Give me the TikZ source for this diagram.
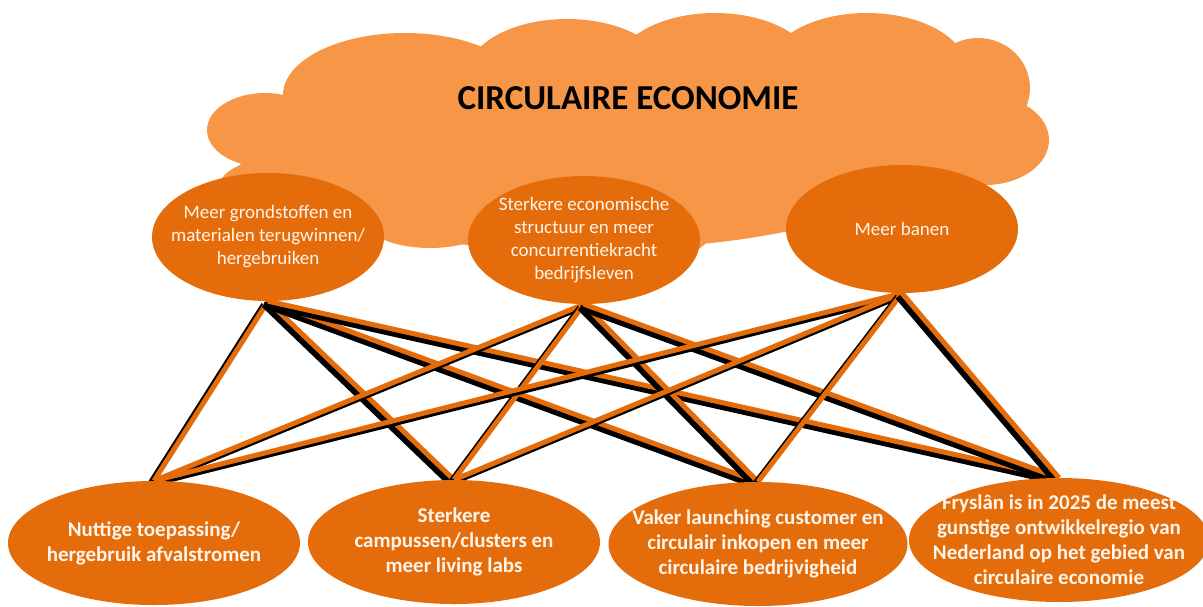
\documentclass[tikz,border=0pt]{standalone}
\usepackage{fontspec}
\setmainfont{Carlito}
\usetikzlibrary{shapes,backgrounds}
\definecolor{cloudorange}{RGB}{247,150,70}
\definecolor{goalorange}{RGB}{228,108,10}
\definecolor{goaltext}{RGB}{255,245,236}
\tikzstyle{topgoal}=[ellipse,fill=goalorange,text=goaltext,align=center,inner sep=-20pt,minimum width=232pt,minimum height=128pt,font=\fontsize{19}{23}\selectfont]
\tikzstyle{subgoal}=[ellipse,fill=goalorange,text=goaltext,align=center,inner sep=-20pt,minimum width=292pt,minimum height=124pt,font=\fontsize{21}{25}\selectfont\bfseries]
\tikzstyle{link}=[draw=goalorange,line width=5pt]
\tikzstyle{linkshadow}=[draw=black,line width=6pt]

\begin{document}
\begin{tikzpicture}[x=1pt,y=-1pt]
\useasboundingbox (0,0) rectangle (1203,606);

%Title
\node[font=\fontsize{35}{42}\selectfont\bfseries] (title) at (628,98) {CIRCULAIRE ECONOMIE};

%Goals
    \foreach \pos/\name/\label in {{(268,237)/e1/{Meer grondstoffen en\\materialen terugwinnen/\\hergebruiken}},
      {(584,240)/e2/{Sterkere economische\\structuur en meer\\concurrentiekracht\\bedrijfsleven}},
      {(902,229)/e3/{Meer banen}}}
        \node[topgoal] (\name) at \pos {\label};

%Sub goals
    \foreach \pos/\name/\label in {{(154,543)/d1/{Nuttige toepassing/\\hergebruik afvalstromen}},
      {(454,542)/d2/{Sterkere\\campussen/clusters en\\meer living labs}},
      {(758,544)/d3/{Vaker launching customer en\\circulair inkopen en meer\\circulaire bedrijvigheid}},
      {(1059,540)/d4/{Fryslân is in 2025 de meest\\gunstige ontwikkelregio van\\Nederland op het gebied van\\circulaire economie}}}
        \node[subgoal] (\name) at \pos {\label};

\begin{scope}[on background layer]
%Cloud
  \foreach \c/\rx/\ry in {{(265,130)/58/37}, {(405,95)/122/62}, {(567,75)/100/56}, {(715,70)/100/57},
      {(867,70)/100/57}, {(978,88)/52/50}, {(985,140)/64/45}, {(580,160)/340/90},
      {(300,185)/80/30}, {(880,146)/112/50}, {(650,225)/65/36}, {(430,215)/70/33}}
          \fill[cloudorange] \c ellipse [x radius=\rx, y radius=\ry];

%Links
  \foreach \source in {e1,e2,e3}
    \foreach \dest in {d1,d2,d3,d4} {
          \draw[linkshadow] ([shift={(-4,3.5)}]\source.south) -- ([shift={(-4,3.5)}]\dest.north);
          \draw[link] (\source.south) -- (\dest.north);
    }
\end{scope}

\end{tikzpicture}
\end{document}
